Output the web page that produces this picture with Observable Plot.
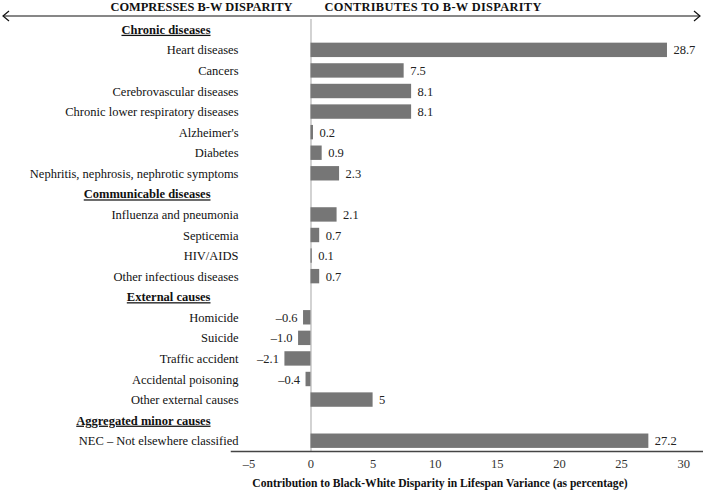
<!DOCTYPE html>
<html>
<head>
<meta charset="utf-8">
<script src="https://cdn.jsdelivr.net/npm/d3@7"></script>
<script src="https://cdn.jsdelivr.net/npm/@observablehq/plot@0.6"></script>
<style>
  html, body { margin: 0; padding: 0; background: #fff; }
  #wrap { position: relative; width: 703px; height: 492px; font-family: "Liberation Serif", "DejaVu Serif", serif; }
  #topband { position: absolute; left: 0; top: 0; }
  #xtitle { position: absolute; top: 477px; left: 0; width: 880px; text-align: center; font-weight: bold; font-size: 11.6px; line-height: 14px; color: #111; }
</style>
</head>
<body>
<div id="wrap"></div>
<script>
const groups = ["Chronic diseases", "Communicable diseases", "External causes", "Aggregated minor causes"];
const causes = [
  "Heart diseases", "Cancers", "Cerebrovascular diseases", "Chronic lower respiratory diseases",
  "Alzheimer's", "Diabetes", "Nephritis, nephrosis, nephrotic symptoms",
  "Influenza and pneumonia", "Septicemia", "HIV/AIDS", "Other infectious diseases",
  "Homicide", "Suicide", "Traffic accident", "Accidental poisoning", "Other external causes",
  "NEC \u2013 Not elsewhere classified"
];
const causeGroup = [0,0,0,0,0,0,0, 1,1,1,1, 2,2,2,2,2, 3];
const values = [28.7, 7.5, 8.1, 8.1, 0.2, 0.9, 2.3, 2.1, 0.7, 0.1, 0.7, -0.6, -1.0, -2.1, -0.4, 5, 27.2];
const valueLabels = ["28.7","7.5","8.1","8.1","0.2","0.9","2.3","2.1","0.7","0.1","0.7","\u20130.6","\u20131.0","\u20132.1","\u20130.4","5","27.2"];
const xTicks = [-5, 0, 5, 10, 15, 20, 25, 30];
const leftHeader = "COMPRESSES B-W DISPARITY";
const rightHeader = "CONTRIBUTES TO B-W DISPARITY";
const xTitle = "Contribution to Black-White Disparity in Lifespan Variance (as percentage)";

const data = causes.map((c, i) => ({cause: c, group: groups[causeGroup[i]], value: values[i], label: valueLabels[i]}));
const rowOrder = [];
groups.forEach((g, gi) => {
  rowOrder.push(g);
  causes.forEach((c, i) => { if (causeGroup[i] === gi) rowOrder.push(c); });
});

const fontStyle = {fontFamily: "'Liberation Serif', 'DejaVu Serif', serif", fontSize: "12.5px", background: "white", color: "#111"};

const plot = Plot.plot({
  width: 703,
  height: 492,
  marginLeft: 231,
  marginRight: 0,
  marginTop: 19,
  marginBottom: 41,
  style: fontStyle,
  x: {domain: [-6.4, 31.6], axis: null},
  y: {type: "band", domain: rowOrder, paddingInner: 0.3, paddingOuter: 0.15, round: false, axis: null},
  marks: [
    Plot.ruleX([0], {stroke: "#c4c4c4", strokeWidth: 1.5}),
    Plot.barX(data, {x: "value", y: "cause", fill: "#767676"}),
    Plot.text(data.filter(d => d.value >= 0), {x: "value", y: "cause", text: "label", textAnchor: "start", dx: 6, fill: "#222"}),
    Plot.text(data.filter(d => d.value < 0), {x: "value", y: "cause", text: "label", textAnchor: "end", dx: -6, fill: "#222"}),
    Plot.text(data, {y: "cause", text: "cause", frameAnchor: "left", textAnchor: "end", dx: 7, fill: "#111"}),
    Plot.text(groups, {y: d => d, text: d => d, frameAnchor: "left", textAnchor: "end", dx: -21, fontWeight: "bold", fill: "#111"}),
    Plot.axisX({ticks: xTicks, tickSize: 0, tickPadding: 8, label: null, fill: "#333", tickFormat: d => d < 0 ? "\u2013" + Math.abs(d) : String(d)}),
    Plot.frame({anchor: "bottom", stroke: "#444", strokeWidth: 1.5})
  ]
});

d3.select(plot).selectAll("text")
  .filter(function() { return groups.includes(this.textContent); })
  .style("text-decoration", "underline");

const wrap = document.getElementById("wrap");
wrap.appendChild(plot);

// Top annotation: direction arrow and headers, positioned relative to the zero line
const x0 = plot.scale("x").apply(0);
const band = d3.create("svg").attr("id", "topband").attr("width", 703).attr("height", 23)
  .style("font-family", "'Liberation Serif', 'DejaVu Serif', serif");
band.append("line").attr("x1", 3).attr("x2", 700).attr("y1", 16).attr("y2", 16).attr("stroke", "#111").attr("stroke-width", 1.2);
band.append("path").attr("d", "M9,11 L3,16 L9,21").attr("fill", "none").attr("stroke", "#111").attr("stroke-width", 1.2);
band.append("path").attr("d", "M694,11 L700,16 L694,21").attr("fill", "none").attr("stroke", "#111").attr("stroke-width", 1.2);
band.append("text").attr("x", x0 - 18).attr("y", 11).attr("text-anchor", "end").attr("font-weight", "bold").attr("font-size", "12.4px").attr("fill", "#111").text(leftHeader);
band.append("text").attr("x", x0 + 14).attr("y", 11).attr("text-anchor", "start").attr("font-weight", "bold").attr("font-size", "12.4px").attr("letter-spacing", "0.3px").attr("fill", "#111").text(rightHeader);
wrap.appendChild(band.node());

const t = document.createElement("div");
t.id = "xtitle";
t.textContent = xTitle;
wrap.appendChild(t);
</script>
</body>
</html>
